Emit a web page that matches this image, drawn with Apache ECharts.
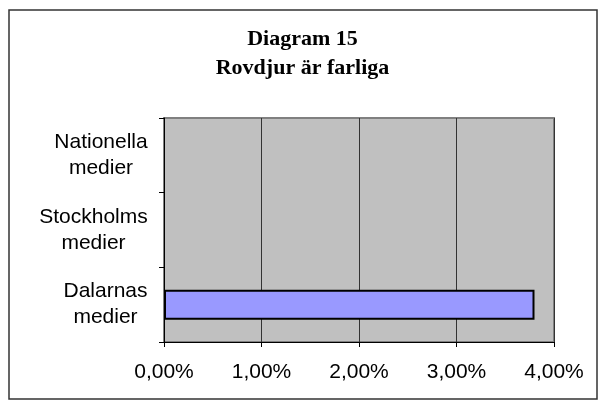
<!DOCTYPE html>
<html>
<head>
<meta charset="utf-8">
<script src="https://cdn.jsdelivr.net/npm/echarts@6/dist/echarts.min.js"></script>
<style>
  html, body { margin: 0; padding: 0; background: #fff; }
  #chart { width: 605px; height: 407px; }
</style>
</head>
<body>
<div id="chart"></div>
<script>
// data
const categories = ['Dalarnas\nmedier', 'Stockholms\nmedier', 'Nationella\nmedier'];
const values = [3.8, null, null];
const xTicks = [0, 1, 2, 3, 4];

const labelFont = '21px "Liberation Sans"';

// width of the longest line, so each label's lines can be centred on each other
function blockWidth(text) {
    const ctx = document.createElement('canvas').getContext('2d');
    ctx.font = labelFont;
    return Math.max(...text.split('\n').map(l => ctx.measureText(l).width));
}

const rich = {};
categories.forEach((c, i) => {
    rich['c' + i] = {
        width: Math.ceil(blockWidth(c)),
        align: 'center',
        fontFamily: 'Liberation Sans',
        fontSize: 21,
        lineHeight: 26,
        color: '#000'
    };
});

const chart = echarts.init(document.getElementById('chart'));

chart.setOption({
    animation: false,
    title: {
        text: 'Diagram 15\nRovdjur är farliga',
        left: 'center',
        top: 20,
        textStyle: {
            fontFamily: 'Liberation Serif',
            fontWeight: 'bold',
            fontSize: 22,
            lineHeight: 29,
            color: '#000'
        }
    },
    graphic: [{
        type: 'rect',
        shape: { x: 9, y: 10, width: 588, height: 389 },
        style: { fill: 'none', stroke: '#333', lineWidth: 1.5 },
        z: -1
    }],
    grid: {
        left: 164,
        right: 51,
        top: 118,
        bottom: 65,
        show: true,
        backgroundColor: '#c0c0c0',
        borderColor: '#808080',
        borderWidth: 2
    },
    xAxis: {
        type: 'value',
        min: xTicks[0],
        max: xTicks[xTicks.length - 1],
        interval: 1,
        axisLine: { show: true, lineStyle: { color: '#000' } },
        axisTick: { show: true, length: 5, lineStyle: { color: '#000' } },
        splitLine: { show: true, lineStyle: { color: '#333', width: 1 } },
        axisLabel: {
            formatter: v => v.toFixed(2).replace('.', ',') + '%',
            fontFamily: 'Liberation Sans',
            fontSize: 21,
            color: '#000',
            margin: 20
        }
    },
    yAxis: {
        type: 'category',
        data: categories,
        axisLine: { show: true, lineStyle: { color: '#000' } },
        axisTick: { show: true, length: 5, lineStyle: { color: '#000' } },
        axisLabel: {
            formatter: (v, i) => v.split('\n').map(l => '{c' + i + '|' + l + '}').join('\n'),
            rich: rich,
            fontFamily: 'Liberation Sans',
            fontSize: 21,
            lineHeight: 26,
            color: '#000',
            margin: 16,
            align: 'right'
        }
    },
    series: [{
        type: 'bar',
        data: values,
        barWidth: 30,
        itemStyle: {
            color: '#9999ff',
            borderColor: '#000',
            borderWidth: 2
        }
    }]
});
</script>
</body>
</html>
